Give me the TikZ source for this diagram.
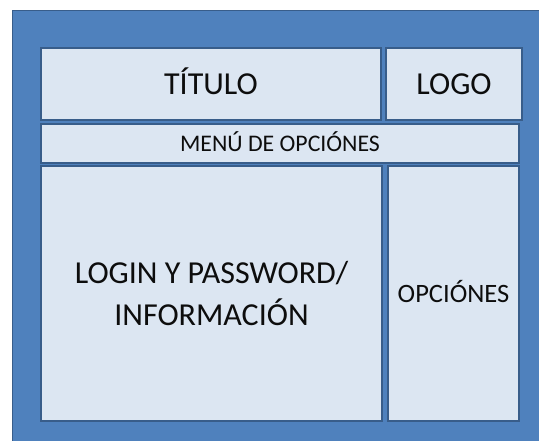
\documentclass[tikz,border=0pt]{standalone}
\usepackage{fontspec}
\setmainfont{Carlito}
\definecolor{fondo}{HTML}{4F81BD}
\definecolor{borde}{HTML}{385D8A}
\definecolor{caja}{HTML}{DCE6F2}
\tikzset{
  cajita/.style={draw=borde, fill=caja, line width=1.2pt, inner sep=0pt,
    align=center, text=black!95},
  linea/.style={text height=#1, text depth=0pt},
  grande/.style={font=\fontsize{32}{43}\selectfont},
}
\begin{document}
\begin{tikzpicture}[x=1pt,y=-1pt]
      \useasboundingbox (0,0) rectangle (539,441);
      \draw[draw=borde, fill=fondo, line width=1pt] (12,11) rectangle (541,443);
      \node[cajita, grande, linea=20.6pt, minimum width=340pt, minimum height=72pt]
        (titulo) at (211,84) {TÍTULO};
      \node[cajita, grande, linea=20.6pt, minimum width=136pt, minimum height=72pt]
        (logo) at (454,84) {LOGO};
      \node[cajita, linea=15.3pt, font=\fontsize{23.8}{28}\selectfont, minimum width=478pt, minimum height=39pt]
        (menu) at (280,143.5) {MENÚ DE OPCIÓNES};
      \node[cajita, grande, minimum width=341pt, minimum height=255pt]
        (login) at (211.5,293.5) {LOGIN Y PASSWORD/\\INFORMACIÓN};
      \node[cajita, linea=17.1pt, font=\fontsize{26.5}{32}\selectfont, minimum width=131pt, minimum height=255pt]
        (opciones) at (453.5,293.5) {OPCIÓNES};
    \end{tikzpicture}
\end{document}
